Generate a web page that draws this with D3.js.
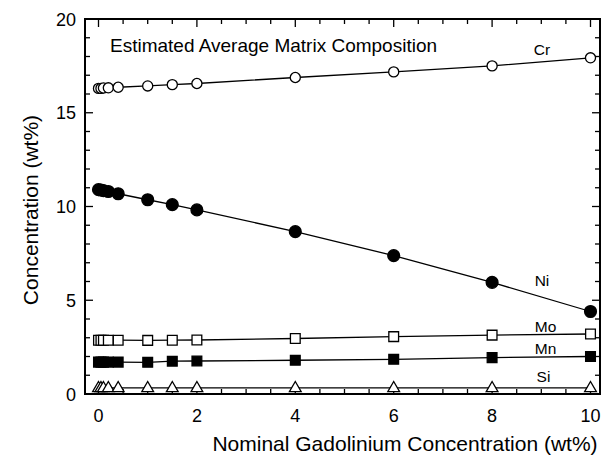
<!DOCTYPE html>
<html lang="en">
<head>
    <meta charset="UTF-8">
    <title>Matrix composition</title>
    <script src="https://cdn.jsdelivr.net/npm/d3@7"></script>
    <style>
        body { margin: 0; background: #fff; }
        text { font-family: "Liberation Sans", Arial, sans-serif; fill: #000; }
    </style>
</head>
<body>
<script>
    // nominal Gd (wt%) and estimated matrix composition (wt%)
    var gd = [0, 0.05, 0.1, 0.2, 0.4, 1, 1.5, 2, 4, 6, 8, 10];
    var cr = [16.3, 16.3, 16.32, 16.33, 16.36, 16.43, 16.5, 16.56, 16.88, 17.18, 17.5, 17.93];
    var ni = [10.9, 10.88, 10.85, 10.8, 10.68, 10.36, 10.1, 9.82, 8.66, 7.38, 5.95, 4.4];
    var mo = [2.87, 2.87, 2.87, 2.87, 2.87, 2.86, 2.87, 2.88, 2.96, 3.06, 3.14, 3.2];
    var mn = [1.7, 1.7, 1.7, 1.7, 1.7, 1.69, 1.75, 1.76, 1.8, 1.85, 1.94, 2.0];
    var si = [0.33, 0.33, 0.33, 0.33, 0.33, 0.33, 0.33, 0.33, 0.33, 0.33, 0.33, 0.33];
    var xTicks = [0, 2, 4, 6, 8, 10];
    var yTicks = [0, 5, 10, 15, 20];

    var w = 605, h = 460;
    var pLeft = 85, pRight = 600, pTop = 19, pBottom = 394;

    var xScale = d3.scaleLinear().domain([0, 10]).range([98.5, 590.5]);
    var yScale = d3.scaleLinear().domain([0, 20]).range([pBottom, pTop]);

    var svg = d3.select("body").append("svg")
        .attr("width", w)
        .attr("height", h);

    // ticks on all four sides, pointing inward
    var xMinor = d3.range(0, 10.01, 0.5);
    var yMinor = d3.range(0, 20.01, 1);
    var tickG = svg.append("g").attr("stroke", "#000").attr("stroke-width", 1.3);
    xMinor.forEach(function (v) {
        var len = (v % 2 === 0) ? 8 : 5;
        var x = xScale(v);
        tickG.append("line").attr("x1", x).attr("x2", x).attr("y1", pBottom).attr("y2", pBottom - len);
        tickG.append("line").attr("x1", x).attr("x2", x).attr("y1", pTop).attr("y2", pTop + len);
    });
    yMinor.forEach(function (v) {
        var len = (v % 5 === 0) ? 8 : 5;
        var y = yScale(v);
        tickG.append("line").attr("x1", pLeft).attr("x2", pLeft + len).attr("y1", y).attr("y2", y);
        tickG.append("line").attr("x1", pRight).attr("x2", pRight - len).attr("y1", y).attr("y2", y);
    });

    svg.append("rect")
        .attr("x", pLeft).attr("y", pTop)
        .attr("width", pRight - pLeft).attr("height", pBottom - pTop)
        .attr("fill", "none").attr("stroke", "#000").attr("stroke-width", 2);

    svg.selectAll(".xlab")
        .data(xTicks)
        .enter()
        .append("text")
        .attr("x", function (d) { return xScale(d); })
        .attr("y", 422)
        .attr("text-anchor", "middle")
        .attr("font-size", "18px")
        .text(function (d) { return d; });

    svg.selectAll(".ylab")
        .data(yTicks)
        .enter()
        .append("text")
        .attr("x", 76)
        .attr("y", function (d) { return yScale(d) + 6.5; })
        .attr("text-anchor", "end")
        .attr("font-size", "18px")
        .text(function (d) { return d; });

    svg.append("text")
        .attr("x", 405).attr("y", 451)
        .attr("text-anchor", "middle")
        .attr("font-size", "21px")
        .text("Nominal Gadolinium Concentration (wt%)");

    svg.append("text")
        .attr("transform", "translate(38,210) rotate(-90)")
        .attr("text-anchor", "middle")
        .attr("font-size", "21px")
        .text("Concentration (wt%)");

    svg.append("text")
        .attr("x", 110).attr("y", 51.5)
        .attr("font-size", "19px")
        .text("Estimated Average Matrix Composition");

    var series = [
        { name: "Cr", vals: cr, shape: "circle", fill: "#fff", lx: 542, ly: 55 },
        { name: "Ni", vals: ni, shape: "circle", fill: "#000", lx: 542, ly: 286 },
        { name: "Mo", vals: mo, shape: "square", fill: "#fff", lx: 545.5, ly: 332 },
        { name: "Mn", vals: mn, shape: "square", fill: "#000", lx: 545.5, ly: 354 },
        { name: "Si", vals: si, shape: "triangle", fill: "#fff", lx: 543.5, ly: 382 }
    ];

    var line = d3.line()
        .x(function (d) { return xScale(d[0]); })
        .y(function (d) { return yScale(d[1]); });

    series.forEach(function (s) {
        var pts = gd.map(function (g, i) { return [g, s.vals[i]]; });
        svg.append("path")
            .attr("d", line(pts))
            .attr("fill", "none")
            .attr("stroke", "#000")
            .attr("stroke-width", 1.3);

        var sym = s.shape === "circle" ? d3.symbolCircle
            : s.shape === "square" ? d3.symbolSquare : d3.symbolTriangle;
        var size = s.shape === "circle" ? (s.fill === "#000" ? 110 : 80)
            : s.shape === "square" ? 95 : 60;
        svg.selectAll(null)
            .data(pts)
            .enter()
            .append("path")
            .attr("d", d3.symbol().type(sym).size(size))
            .attr("transform", function (d) {
                var dy = s.shape === "triangle" ? 0.5 : 0;
                return "translate(" + xScale(d[0]) + "," + (yScale(d[1]) + dy) + ")";
            })
            .attr("fill", s.fill)
            .attr("stroke", "#000")
            .attr("stroke-width", 1.3);

        svg.append("text")
            .attr("x", s.lx).attr("y", s.ly)
            .attr("text-anchor", "middle")
            .attr("font-size", "15.5px")
            .text(s.name);
    });
</script>
</body>
</html>
